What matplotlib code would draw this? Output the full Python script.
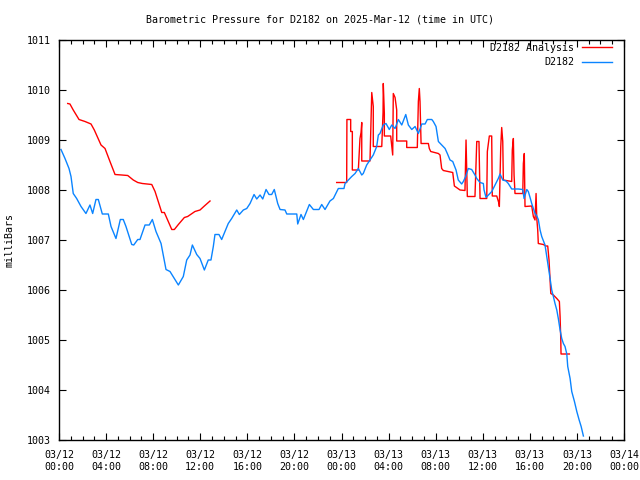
import numpy as np
import matplotlib
matplotlib.use("Agg")
import matplotlib.pyplot as plt
import matplotlib.dates as mdates

# ---- data (hours since 2025-03-12 00:00 UTC) ----
blue_hours = [0.17, 0.51, 0.85, 1.02, 1.21, 1.50, 1.87, 2.29, 2.63, 2.86, 3.14, 3.34, 3.68, 4.19,
              4.42, 4.84, 5.21, 5.46, 5.69, 6.18, 6.35, 6.69, 6.88, 7.31, 7.67, 7.93, 8.24, 8.67,
              9.09, 9.43, 9.80, 10.14, 10.56, 10.85, 11.13, 11.33, 11.70, 11.98, 12.35, 12.68,
              12.91, 13.11, 13.25, 13.59, 13.82, 14.10, 14.38, 14.67, 15.10, 15.32, 15.66, 15.95,
              16.23, 16.57, 16.80, 17.08, 17.31, 17.59, 17.84, 18.07, 18.29, 18.58, 18.78, 19.20,
              19.35, 20.20, 20.28, 20.56, 20.76, 21.27, 21.61, 22.09, 22.32, 22.60, 23.02, 23.31,
              23.73, 24.21, 24.30, 24.58, 24.87, 25.15, 25.43, 25.72, 25.85, 26.14, 26.42, 26.70,
              26.99, 27.13, 27.27, 27.55, 27.78, 28.06, 28.27, 28.55, 28.83, 29.12, 29.46, 29.68,
              29.97, 30.25, 30.53, 30.82, 31.10, 31.29, 31.67, 31.80, 32.03, 32.23, 32.51, 32.80,
              32.99, 33.22, 33.45, 33.73, 33.92, 34.21, 34.35, 34.55, 34.77, 35.06, 35.34, 35.49,
              35.77, 36.05, 36.11, 36.28, 36.48, 36.77, 37.04, 37.32, 37.47, 37.70, 37.98, 38.17,
              38.46, 39.02, 39.40, 39.51, 39.74, 39.87, 40.02, 40.16, 40.44, 40.59, 40.72, 40.87,
              41.01, 41.29, 41.44, 41.57, 41.72, 41.86, 42.00, 42.14, 42.29, 42.42, 42.57, 42.71,
              42.85, 42.99, 43.14, 43.22, 43.42, 43.56, 43.79, 43.99, 44.19, 44.36, 44.55]
blue_values = [1008.81, 1008.63, 1008.43, 1008.27, 1007.93, 1007.83, 1007.67, 1007.53, 1007.70,
               1007.53, 1007.81, 1007.81, 1007.52, 1007.52, 1007.27, 1007.03, 1007.41, 1007.41,
               1007.27, 1006.91, 1006.90, 1007.01, 1007.01, 1007.30, 1007.30, 1007.41, 1007.17,
               1006.93, 1006.41, 1006.37, 1006.23, 1006.10, 1006.27, 1006.60, 1006.70, 1006.90,
               1006.71, 1006.63, 1006.40, 1006.60, 1006.60, 1006.87, 1007.11, 1007.11, 1007.01,
               1007.17, 1007.33, 1007.43, 1007.60, 1007.51, 1007.60, 1007.63, 1007.73, 1007.91,
               1007.82, 1007.90, 1007.82, 1008.01, 1007.91, 1007.91, 1008.01, 1007.73, 1007.61,
               1007.60, 1007.52, 1007.52, 1007.32, 1007.51, 1007.41, 1007.71, 1007.61, 1007.61,
               1007.71, 1007.61, 1007.78, 1007.83, 1008.03, 1008.03, 1008.13, 1008.20, 1008.27,
               1008.33, 1008.43, 1008.30, 1008.33, 1008.50, 1008.60, 1008.70, 1008.87, 1009.10,
               1009.13, 1009.30, 1009.33, 1009.21, 1009.30, 1009.23, 1009.41, 1009.30, 1009.51,
               1009.30, 1009.21, 1009.27, 1009.13, 1009.32, 1009.32, 1009.41, 1009.41, 1009.37,
               1009.27, 1008.97, 1008.90, 1008.83, 1008.73, 1008.60, 1008.57, 1008.40, 1008.20,
               1008.12, 1008.17, 1008.27, 1008.43, 1008.41, 1008.30, 1008.23, 1008.15, 1008.13,
               1008.00, 1007.85, 1007.90, 1007.97, 1008.10, 1008.23, 1008.32, 1008.20, 1008.18,
               1008.13, 1008.02, 1008.02, 1008.01, 1007.83, 1008.01, 1007.97, 1007.85, 1007.73,
               1007.53, 1007.48, 1007.41, 1007.20, 1007.07, 1006.90, 1006.67, 1006.47, 1006.23,
               1006.00, 1005.87, 1005.73, 1005.60, 1005.43, 1005.20, 1005.03, 1004.93, 1004.87,
               1004.72, 1004.47, 1004.23, 1003.97, 1003.77, 1003.57, 1003.40, 1003.27, 1003.08]

red1_hours = [0.74, 0.93, 1.21, 1.70, 2.21, 2.72, 3.00, 3.57, 3.91, 4.33, 4.76, 5.33, 5.84, 6.31,
              6.69, 7.08, 7.88, 8.16, 8.73, 8.95, 9.58, 9.80, 10.14, 10.65, 10.93, 11.55, 11.98,
              12.35, 12.83]
red1_values = [1009.73, 1009.72, 1009.60, 1009.41, 1009.37, 1009.32, 1009.20, 1008.90, 1008.83,
               1008.57, 1008.31, 1008.30, 1008.29, 1008.20, 1008.15, 1008.13, 1008.11, 1007.97,
               1007.55, 1007.55, 1007.21, 1007.21, 1007.31, 1007.45, 1007.47, 1007.57, 1007.60,
               1007.68, 1007.78]

red2_hours = [23.59, 24.44, 24.46, 24.58, 24.78, 24.78, 24.92, 24.92, 25.43, 25.57, 25.66, 25.72,
              25.72, 26.42, 26.57, 26.70, 26.70, 27.42, 27.53, 27.55, 27.64, 27.64, 28.18, 28.35,
              28.40, 28.55, 28.69, 28.69, 29.54, 29.54, 30.44, 30.53, 30.61, 30.67, 30.76, 31.38,
              31.46, 31.58, 32.23, 32.37, 32.51, 32.65, 33.45, 33.59, 34.07, 34.49, 34.58, 34.69,
              35.34, 35.49, 35.68, 35.77, 36.34, 36.39, 36.56, 36.76, 36.81, 37.19, 37.38, 37.41,
              37.53, 37.61, 37.70, 37.75, 38.46, 38.51, 38.60, 38.66, 38.74, 39.40, 39.45, 39.53,
              39.59, 40.16, 40.30, 40.44, 40.53, 40.59, 40.67, 40.72, 41.15, 41.35, 41.52, 41.63,
              41.72, 41.78, 42.00, 42.29, 42.51, 42.57, 42.63, 42.65, 43.36]
red2_values = [1008.15, 1008.15, 1009.41, 1009.41, 1009.41, 1009.17, 1009.17, 1008.40, 1008.40,
               1009.03, 1009.15, 1009.35, 1008.58, 1008.58, 1009.95, 1009.67, 1008.87, 1008.87,
               1009.55, 1010.13, 1009.53, 1009.08, 1009.08, 1008.70, 1009.93, 1009.85, 1009.60,
               1008.98, 1008.98, 1008.85, 1008.85, 1009.77, 1010.03, 1009.77, 1008.93, 1008.93,
               1008.83, 1008.77, 1008.73, 1008.70, 1008.43, 1008.39, 1008.35, 1008.08, 1008.00,
               1007.99, 1009.00, 1007.87, 1007.87, 1008.97, 1008.97, 1007.83, 1007.83, 1008.77,
               1009.08, 1009.08, 1007.88, 1007.88, 1007.73, 1007.67, 1008.87, 1009.25, 1008.97,
               1008.20, 1008.17, 1008.80, 1009.03, 1008.30, 1007.93, 1007.93, 1008.53, 1008.73,
               1007.67, 1007.68, 1007.47, 1007.40, 1007.93, 1007.43, 1007.20, 1006.93, 1006.91,
               1006.88, 1006.88, 1006.60, 1006.20, 1005.93, 1005.90, 1005.83, 1005.77, 1005.47,
               1005.00, 1004.72, 1004.72]

title = "Barometric Pressure for D2182 on 2025-Mar-12 (time in UTC)"
ylabel = "milliBars"
series_names = ["D2182 Analysis", "D2182"]
y_ticks = [1003, 1004, 1005, 1006, 1007, 1008, 1009, 1010, 1011]

base = np.datetime64("2025-03-12T00:00:00")


def to_time(hours):
    return base + (np.asarray(hours) * 3600).round().astype("timedelta64[s]")


mono = "DejaVu Sans Mono"
plt.rcParams["font.family"] = mono
fs = 7.2

fig = plt.figure(figsize=(6.4, 4.8), dpi=100)
ax = fig.add_axes([59 / 640, 1 - 440 / 480, (624 - 59) / 640, 400 / 480])

# red split into two pieces to leave the gap
ax.plot(to_time(red1_hours), red1_values, color="#ff0000", lw=1.0, label=series_names[0])
ax.plot(to_time(red2_hours), red2_values, color="#ff0000", lw=1.0)
ax.plot(to_time(blue_hours), blue_values, color="#0a84ff", lw=1.0, label=series_names[1])

ax.set_xlim(base, base + np.timedelta64(48, "h"))
ax.set_ylim(1003, 1011)
ax.set_yticks(y_ticks)
ax.set_yticklabels([str(v) for v in y_ticks])

ax.xaxis.set_major_locator(mdates.HourLocator(byhour=range(0, 24, 4)))
ax.xaxis.set_minor_locator(mdates.HourLocator())
ax.xaxis.set_major_formatter(mdates.DateFormatter("%m/%d\n%H:%M"))

ax.tick_params(axis="both", which="major", direction="in", length=5, width=0.8,
               top=True, right=True, labelsize=fs, pad=6)
ax.tick_params(axis="x", which="minor", direction="in", length=2.8, width=0.8, top=True)
ax.tick_params(axis="x", which="major", pad=7)
for lbl in ax.get_xticklabels():
    lbl.set_linespacing(1.3)
for s in ax.spines.values():
    s.set_linewidth(1.0)

ax.set_ylabel(ylabel, fontsize=fs)
ax.yaxis.set_label_coords((15 - 59) / 565, 0.5)

fig.text(0.5, 1 - 19 / 480, title, ha="center", va="center", fontsize=fs)

leg = ax.legend(loc="upper right", bbox_to_anchor=(1 - 12 / 565, 1 - 3 / 400), frameon=False,
                markerfirst=False, fontsize=fs, handlelength=3.0, handletextpad=0.8,
                labelspacing=0.45, borderpad=0, borderaxespad=0)

fig.savefig("out.png", dpi=100)
